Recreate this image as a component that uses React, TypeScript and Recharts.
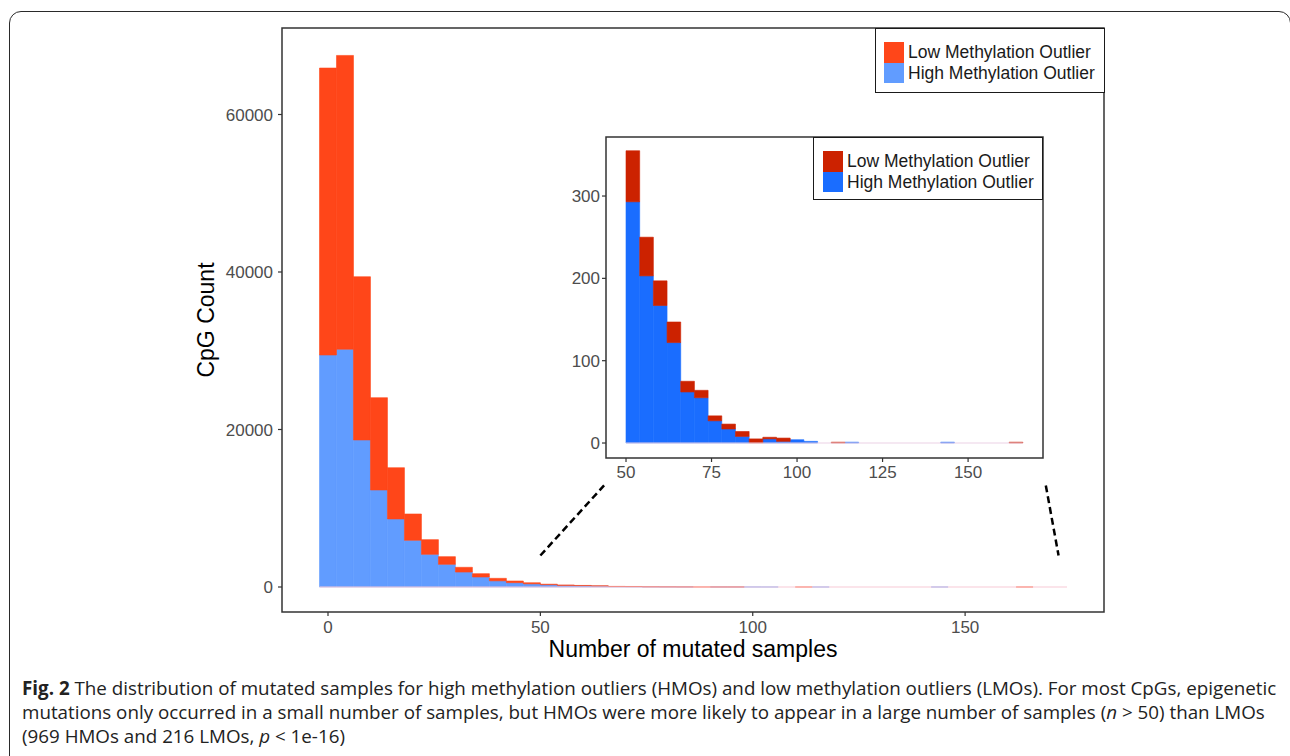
import React from 'react';
import { BarChart, Bar, XAxis, YAxis, ReferenceArea, ReferenceLine, Legend, Label } from 'recharts';

// ---- data ----
const binCenters = [0, 4, 8, 12, 16, 20, 24, 28, 32, 36, 40, 44, 48, 52, 56, 60, 64, 68, 72, 76, 80, 84, 88, 92, 96, 100, 104, 108, 112, 116, 120, 124, 128, 132, 136, 140, 144, 148, 152, 156, 160, 164, 168, 172];
const highCounts = [29460, 30190, 18670, 12320, 8640, 5930, 4150, 2880, 1900, 1270, 780, 550, 400, 293, 203, 167, 122, 62, 55, 27, 17, 8, 0, 5, 2, 4, 2, 0, 0, 1, 0, 0, 0, 0, 0, 0, 1, 0, 0, 0, 0, 0, 0, 0];
const lowCounts = [36440, 37310, 20730, 11720, 6510, 3340, 1860, 970, 600, 420, 320, 210, 140, 62, 47, 30, 25, 13, 9, 6, 6, 6, 5, 2, 4, 0, 0, 0, 1, 0, 0, 0, 0, 0, 0, 0, 0, 0, 0, 0, 0, 1, 0, 0];
const insetRange = [52, 164];
const mainXTicks = [0, 50, 100, 150];
const mainYTicks = [0, 20000, 40000, 60000];
const insetXTicks = [50, 75, 100, 125, 150];
const insetYTicks = [0, 100, 200, 300];
const seriesNames = ['Low Methylation Outlier', 'High Methylation Outlier'];
const binWidth = 4;

const mainData = binCenters.map((b, i) => ({ bin: b, high: highCounts[i], low: lowCounts[i] }));
const insetData = mainData.filter((d) => d.bin >= insetRange[0] && d.bin <= insetRange[1]);

// ---- styles ----
const MAIN_RED = '#FF4619';
const MAIN_BLUE = '#619CFF';
const INSET_RED = '#CC2200';
const INSET_BLUE = '#1A6DFF';
const FONT = '"Liberation Sans", Arial, Helvetica, sans-serif';
const TICK = { fill: '#4D4D4D', fontSize: 17, fontFamily: FONT };

const MAIN_X = [-10.83, 182.7];
const MAIN_Y = [-3175, 70984];
const INSET_X = [44.15, 171.9];
const INSET_Y = [-18.2, 371.7];
const MAIN_PLOT_W = 822;
const INSET_PLOT_W = 437;
const mainBarSize = (binWidth * MAIN_PLOT_W) / (MAIN_X[1] - MAIN_X[0]) - 0.01;
const insetBarSize = (binWidth * INSET_PLOT_W) / (INSET_X[1] - INSET_X[0]) - 0.01;

const makeLegend = (keyLeft: number, textLeft: number, h: number) => (props: any) => {
  const payload = [...(props.payload || [])].sort(
    (a: any, b: any) => seriesNames.indexOf(a.value) - seriesNames.indexOf(b.value)
  );
  return (
    <div style={{ width: 230, height: h, border: '1.5px solid #1a1a1a', boxSizing: 'border-box', background: '#fff', position: 'relative' }}>
      {payload.map((it: any, i: number) => (
        <div key={it.value} style={{ position: 'absolute', left: keyLeft, top: 13 + 20.5 * i, height: 20.5, display: 'flex', alignItems: 'center' }}>
          <span style={{ display: 'inline-block', width: 20, height: 20.5, background: it.color }} />
          <span style={{ marginLeft: textLeft - keyLeft - 20, fontSize: 17.5, fontFamily: FONT, color: '#1a1a1a', whiteSpace: 'nowrap', lineHeight: '20px' }}>{it.value}</span>
        </div>
      ))}
    </div>
  );
};

const YTitle = (props: any) => {
  const vb = props.viewBox;
  const x = vb.x + 22;
  const y = vb.y + vb.height / 2;
  return (
    <text x={x} y={y} transform={`rotate(-90, ${x}, ${y})`} textAnchor="middle" fontSize={23} fontFamily={FONT} fill="#000">
      CpG Count
    </text>
  );
};

const XTitle = (props: any) => {
  const vb = props.viewBox;
  return (
    <text x={vb.x + vb.width / 2} y={vb.y + 45} textAnchor="middle" fontSize={23} fontFamily={FONT} fill="#000">
      Number of mutated samples
    </text>
  );
};

export default function App() {
  return (
    <div style={{ position: 'absolute', left: 0, top: 0, width: 1290, height: 756, overflow: 'hidden', background: '#fff', fontFamily: FONT }}>
      <div style={{ position: 'absolute', left: 9, top: 11, width: 1282, height: 800, border: '1.5px solid #2a2a2a', borderRadius: 12, boxSizing: 'border-box' }} />

      {/* main chart */}
      <div style={{ position: 'absolute', left: 0, top: 0 }}>
        <BarChart width={1290} height={680} data={mainData} margin={{ top: 28, left: 192, right: 186, bottom: 8 }} barCategoryGap={0} barGap={0}>
          <XAxis dataKey="bin" type="number" domain={MAIN_X} allowDataOverflow ticks={mainXTicks} height={60}
            axisLine={false} tickLine={{ stroke: '#333', strokeWidth: 1.2 }} tickSize={4} tickMargin={5} tick={TICK}>
            <Label content={<XTitle />} />
          </XAxis>
          <YAxis type="number" domain={MAIN_Y} allowDataOverflow ticks={mainYTicks} width={90}
            axisLine={false} tickLine={{ stroke: '#333', strokeWidth: 1.2 }} tickSize={4} tickMargin={5} tick={TICK}>
            <Label content={<YTitle />} />
          </YAxis>
          <ReferenceLine segment={[{ x: binCenters[0] - binWidth / 2, y: 0 }, { x: binCenters[binCenters.length - 1] + binWidth / 2, y: 0 }]} stroke="#F7C9D6" strokeWidth={1.2} ifOverflow="visible" />
          <Bar dataKey="high" name={seriesNames[1]} stackId="s" fill={MAIN_BLUE} stroke={MAIN_BLUE} strokeWidth={0.6} barSize={mainBarSize} isAnimationActive={false} legendType="square" />
          <Bar dataKey="low" name={seriesNames[0]} stackId="s" fill={MAIN_RED} stroke={MAIN_RED} strokeWidth={0.6} barSize={mainBarSize} isAnimationActive={false} legendType="square" />
          <ReferenceArea x1={MAIN_X[0]} x2={MAIN_X[1]} y1={MAIN_Y[0]} y2={MAIN_Y[1]} fill="none" fillOpacity={0} stroke="#333" strokeWidth={1.5} ifOverflow="visible" />
          <ReferenceLine segment={[{ x: 50, y: 4000 }, { x: 65, y: 12900 }]} stroke="#000" strokeWidth={2.5} strokeDasharray="7 4" ifOverflow="visible" />
          <ReferenceLine segment={[{ x: 169, y: 12900 }, { x: 172, y: 4000 }]} stroke="#000" strokeWidth={2.5} strokeDasharray="7 4" ifOverflow="visible" />
          <Legend layout="horizontal" align="center" verticalAlign="middle" content={makeLegend(8, 32, 65)}
            wrapperStyle={{ left: 875, top: 28, width: 230, height: 65 }} />
        </BarChart>
      </div>

      {/* inset chart */}
      <div style={{ position: 'absolute', left: 0, top: 0 }}>
        <BarChart width={1290} height={500} data={insetData} margin={{ top: 137, left: 556, right: 247, bottom: 12 }} barCategoryGap={0} barGap={0}>
          <XAxis dataKey="bin" type="number" domain={INSET_X} allowDataOverflow ticks={insetXTicks} height={30}
            axisLine={false} tickLine={{ stroke: '#333', strokeWidth: 1.2 }} tickSize={4} tickMargin={4} tick={TICK} />
          <YAxis type="number" domain={INSET_Y} allowDataOverflow ticks={insetYTicks} width={50}
            axisLine={false} tickLine={{ stroke: '#333', strokeWidth: 1.2 }} tickSize={4} tickMargin={2} tick={TICK} />
          <ReferenceLine segment={[{ x: insetData[0].bin - binWidth / 2, y: 0 }, { x: insetRange[1] + binWidth / 2, y: 0 }]} stroke="#EBD2E6" strokeWidth={1.2} ifOverflow="visible" />
          <Bar dataKey="high" name={seriesNames[1]} stackId="s" fill={INSET_BLUE} stroke={INSET_BLUE} strokeWidth={0.6} barSize={insetBarSize} isAnimationActive={false} legendType="square" />
          <Bar dataKey="low" name={seriesNames[0]} stackId="s" fill={INSET_RED} stroke={INSET_RED} strokeWidth={0.6} barSize={insetBarSize} isAnimationActive={false} legendType="square" />
          <ReferenceArea x1={INSET_X[0]} x2={INSET_X[1]} y1={INSET_Y[0]} y2={INSET_Y[1]} fill="none" fillOpacity={0} stroke="#333" strokeWidth={1.5} ifOverflow="visible" />
          <Legend layout="horizontal" align="center" verticalAlign="middle" content={makeLegend(9, 33, 63)}
            wrapperStyle={{ left: 813, top: 137, width: 230, height: 63 }} />
        </BarChart>
      </div>

      {/* caption */}
      <div style={{ position: 'absolute', left: 22, top: 676, fontFamily: '"Open Sans", sans-serif', fontSize: 18.8, lineHeight: '24px', color: '#222', whiteSpace: 'nowrap' }}>
        <div><b>Fig. 2</b> The distribution of mutated samples for high methylation outliers (HMOs) and low methylation outliers (LMOs). For most CpGs, epigenetic</div>
        <div>mutations only occurred in a small number of samples, but HMOs were more likely to appear in a large number of samples (<i>n</i> &gt; 50) than LMOs</div>
        <div>(969 HMOs and 216 LMOs, <i>p</i> &lt; 1e-16)</div>
      </div>
    </div>
  );
}
